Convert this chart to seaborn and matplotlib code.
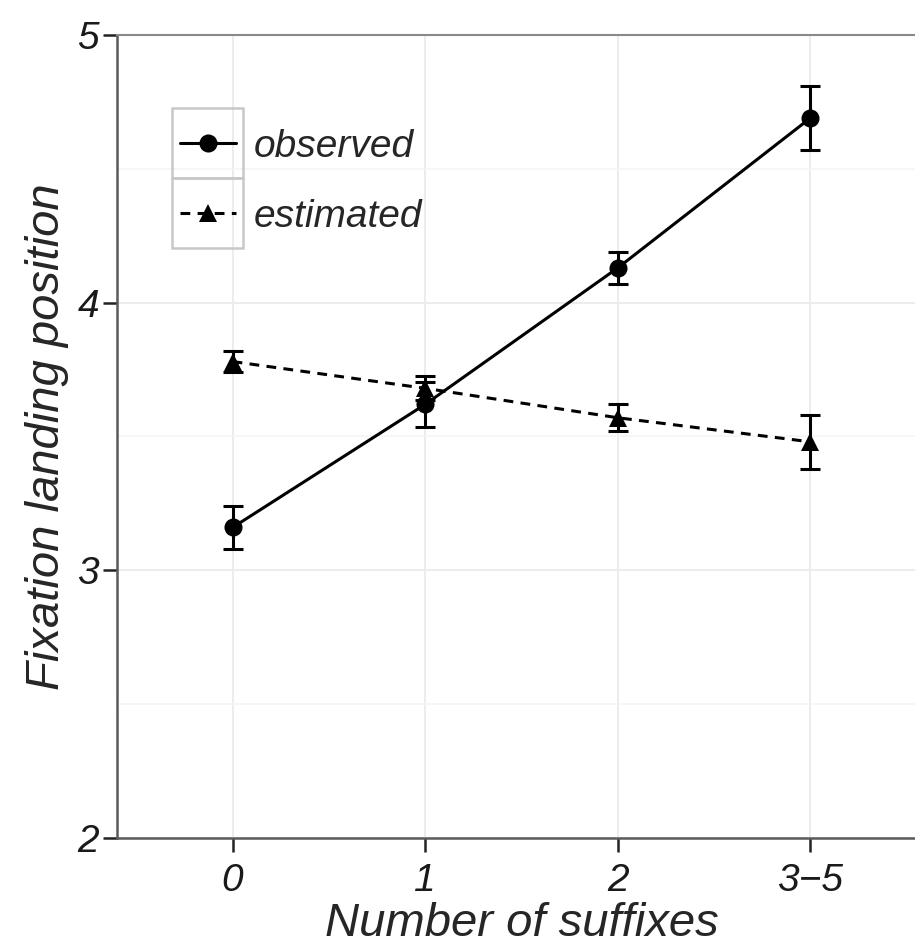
import numpy as np
import pandas as pd
import matplotlib
matplotlib.use("Agg")
import matplotlib.pyplot as plt
import seaborn as sns
from matplotlib.patches import Rectangle
from matplotlib.lines import Line2D

categories = ["0", "1", "2", "3\u22125"]
observed = [3.16, 3.62, 4.13, 4.69]
observed_err = [0.08, 0.085, 0.06, 0.12]
estimated = [3.78, 3.68, 3.57, 3.48]
estimated_err = [0.04, 0.045, 0.05, 0.10]
series_names = ["observed", "estimated"]

pos = np.arange(len(categories))
df = pd.DataFrame({
    "x": np.concatenate([pos, pos]),
    "y": observed + estimated,
    "series": [series_names[0]] * 4 + [series_names[1]] * 4,
})

sns.set_style("white")
plt.rcParams["font.family"] = ["Liberation Sans", "DejaVu Sans"]

fig = plt.figure(figsize=(9.15, 9.49), dpi=100)
ax = fig.add_axes([0.1279, 0.1170, 1.012 - 0.1279, 0.9631 - 0.1170])

LW = 2.2
DASH = (3.2, 2.4)
sns.lineplot(data=df, x="x", y="y", style="series", markers={"observed": "o", "estimated": "^"},
             dashes={"observed": "", "estimated": DASH}, color="black", linewidth=LW,
             markersize=13, markeredgewidth=0, legend=False, ax=ax)
ax.errorbar(pos, observed, yerr=observed_err, fmt="none", ecolor="black", elinewidth=LW, capsize=7, capthick=LW)
ax.errorbar(pos, estimated, yerr=estimated_err, fmt="none", ecolor="black", elinewidth=LW, capsize=7, capthick=LW)

ax.set_xlim(-0.6, 3.6)
ax.set_ylim(2, 5)
ax.set_xticks(pos)
ax.set_xticklabels(categories)
ax.set_yticks([2, 3, 4, 5])
ax.set_yticks([2.5, 3.5, 4.5], minor=True)
ax.grid(True, which="major", color="#ebebeb", linewidth=1.3)
ax.grid(True, which="minor", axis="y", color="#f4f4f4", linewidth=1.1)
ax.set_axisbelow(True)

for s in ["left", "bottom"]:
    ax.spines[s].set_color("#5a5a5a")
    ax.spines[s].set_linewidth(1.8)
ax.spines["top"].set_color("#8a8a8a")
ax.spines["top"].set_linewidth(1.5)
ax.spines["right"].set_visible(False)

ax.tick_params(axis="both", which="major", direction="out", length=10, width=1.8, color="#222222",
               labelsize=28, labelcolor="#1a1a1a", bottom=True, left=True)
ax.tick_params(axis="x", which="major", pad=8)
ax.tick_params(axis="y", which="major", pad=3)
ax.tick_params(axis="both", which="minor", length=0)
for lab in ax.get_xticklabels() + ax.get_yticklabels():
    lab.set_fontstyle("italic")

ax.set_xlabel("Number of suffixes", fontsize=34, fontstyle="italic", labelpad=2)
ax.set_ylabel("Fixation landing position", fontsize=34, fontstyle="italic", labelpad=6)

# legend
handles = [
    Line2D([], [], color="black", linestyle="-", linewidth=LW, marker="o", markersize=13, markeredgewidth=0),
    Line2D([], [], color="black", linestyle=(0, DASH), linewidth=LW, marker="^", markersize=13, markeredgewidth=0),
]
leg = ax.legend(handles, series_names, loc="upper left", bbox_to_anchor=(172 / 915, 1 - 121 / 949),
                bbox_transform=fig.transFigure, frameon=False, fontsize=28, handlelength=1.45,
                handletextpad=0.45, labelspacing=0.88, borderpad=0.2, borderaxespad=0)
for t in leg.get_texts():
    t.set_fontstyle("italic")
for y0 in [108, 178]:
    fig.patches.append(Rectangle((172 / 915, 1 - (y0 + 70) / 949), 71 / 915, 70 / 949,
                                 transform=fig.transFigure, fill=False, edgecolor="#c8c8c8", linewidth=1.8))

fig.savefig("out.png", dpi=100)
